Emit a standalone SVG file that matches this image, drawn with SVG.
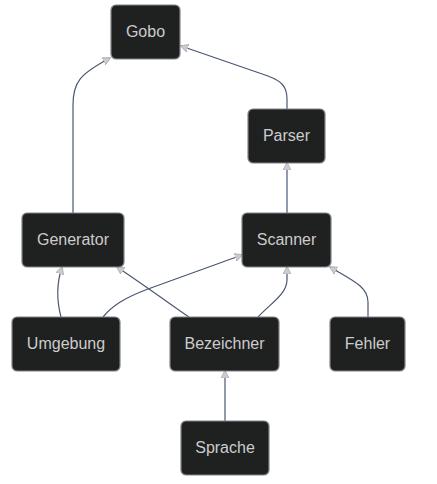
<svg xmlns="http://www.w3.org/2000/svg" width="437" height="484" viewBox="0 0 437 484">
<style>
.node rect{fill:#1f2020;stroke:#81848c;stroke-width:1.2}
.node text{fill:#cccccc;font-family:"Liberation Sans",Arial,sans-serif;font-size:16px;text-anchor:middle;dominant-baseline:central}
.edge{fill:none;stroke:#4b5675;stroke-width:1.2;marker-end:url(#arr)}
</style>
<defs>
<marker id="arr" viewBox="0 0 10 10" refX="9" refY="5" markerWidth="8" markerHeight="8" markerUnits="userSpaceOnUse" orient="auto">
<path d="M0,0 L10,5 L0,10 z" fill="#cccccc" stroke="#9a9ca3" stroke-width="0.8"/>
</marker>
</defs>
<rect width="437" height="484" fill="#ffffff"/>
<g id="connectors">
<path class="edge" d="M73,213 L73,105 C73,82 80,74 110,58"/>
<path class="edge" d="M287,109 L287,99 C287,86 281,81 268,76 L181,46"/>
<path class="edge" d="M287,213 L287,163"/>
<path class="edge" d="M61,317 C57,302 56,285 62,267"/>
<path class="edge" d="M103,317 C112,306 124,298 148,289 L242,255"/>
<path class="edge" d="M189,317 C178,310 160,296 117,267"/>
<path class="edge" d="M258,317 C270,304 287,294 287,280 L287,267"/>
<path class="edge" d="M368,317 L368,302 C368,287 354,281 330,267"/>
<path class="edge" d="M225,421 L225,371"/>
</g>
<g id="Gobo" class="node"><rect x="111" y="5" width="69" height="54" rx="5"/><text x="145.5" y="31">Gobo</text></g>
<g id="Parser" class="node"><rect x="248" y="109" width="77" height="54" rx="5"/><text x="286.5" y="135">Parser</text></g>
<g id="Generator" class="node"><rect x="22" y="213" width="102" height="54" rx="5"/><text x="73" y="239">Generator</text></g>
<g id="Scanner" class="node"><rect x="242" y="213" width="89" height="54" rx="5"/><text x="286.5" y="239">Scanner</text></g>
<g id="Umgebung" class="node"><rect x="12" y="317" width="108" height="54" rx="5"/><text x="66" y="343">Umgebung</text></g>
<g id="Bezeichner" class="node"><rect x="170" y="317" width="109" height="54" rx="5"/><text x="224.5" y="343">Bezeichner</text></g>
<g id="Fehler" class="node"><rect x="330" y="317" width="75" height="54" rx="5"/><text x="367.5" y="343">Fehler</text></g>
<g id="Sprache" class="node"><rect x="181" y="421" width="88" height="54" rx="5"/><text x="225" y="447">Sprache</text></g>
</svg>
